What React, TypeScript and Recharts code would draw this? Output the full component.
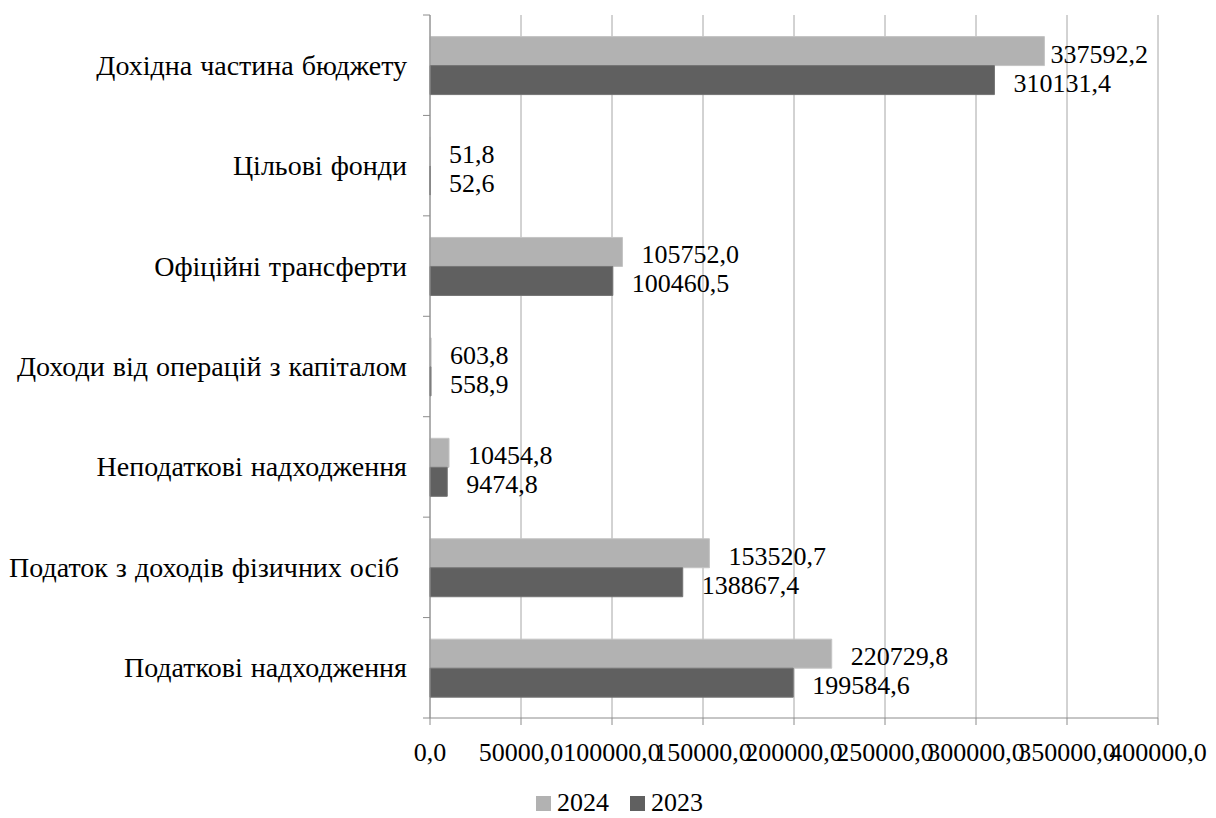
import React from 'react';
import {
  BarChart,
  Bar,
  XAxis,
  YAxis,
  CartesianGrid,
  LabelList,
} from 'recharts';

// budget revenue structure, thousand UAH
const categories = [
  'Дохідна частина бюджету',
  'Цільові фонди',
  'Офіційні трансферти',
  'Доходи від операцій з капіталом',
  'Неподаткові надходження',
  'Податок з доходів фізичних осіб ',
  'Податкові надходження',
];
const values2024 = [337592.2, 51.8, 105752.0, 603.8, 10454.8, 153520.7, 220729.8];
const values2023 = [310131.4, 52.6, 100460.5, 558.9, 9474.8, 138867.4, 199584.6];
const xTicks = [0, 50000, 100000, 150000, 200000, 250000, 300000, 350000, 400000];

const data = categories.map((name, i) => ({
  name,
  y2024: values2024[i],
  y2023: values2023[i],
}));

const FONT = 'Liberation Serif';
const TEXT = '#000';
const AXIS = '#8c8c8c';
const GRID = '#a6a6a6';
const LIGHT = '#b2b2b2';
const DARK = '#606060';

const W = 1216;
const H = 818;
const PLOT_TOP = 15;
const PLOT_BOTTOM = 718;
const PLOT_LEFT = 430;
const PLOT_RIGHT = 1158;
const BAND = (PLOT_BOTTOM - PLOT_TOP) / categories.length;

const fmt = (v: number) => v.toFixed(1).replace('.', ',');

interface CatTickProps {
  x?: number;
  y?: number;
  index?: number;
  payload?: { value: string };
}

// category label plus the little tick marks at band boundaries
function CategoryTick({ x = 0, y = 0, index = 0, payload }: CatTickProps) {
  const top = y - BAND / 2;
  const bottom = y + BAND / 2;
  return (
    <g>
      <line x1={x - 7} x2={x} y1={top} y2={top} stroke={AXIS} />
      {index === categories.length - 1 && (
        <line x1={x - 7} x2={x} y1={bottom} y2={bottom} stroke={AXIS} />
      )}
      <text
        x={x - 23}
        y={y}
        textAnchor="end"
        dominantBaseline="central"
        fontFamily={FONT}
        fontSize={28}
        wordSpacing={1}
        fill={TEXT}
        style={{ whiteSpace: 'pre' }}
      >
        {payload?.value}
      </text>
    </g>
  );
}

interface ValueLabelProps {
  x?: number | string;
  y?: number | string;
  width?: number | string;
  height?: number | string;
  value?: number | string;
}

// value printed past the bar end, kept inside the plot on the right
function ValueLabel({ x = 0, y = 0, width = 0, height = 0, value }: ValueLabelProps) {
  const text = fmt(Number(value));
  const approxWidth = (text.length - 1) * 13 + 6.5;
  let left = Number(x) + Number(width) + 19;
  if (left + approxWidth > PLOT_RIGHT - 10) left = PLOT_RIGHT - 10 - approxWidth;
  return (
    <text
      x={left}
      y={Number(y) + Number(height) / 2 + 3}
      dominantBaseline="central"
      fontFamily={FONT}
      fontSize={26}
      fill={TEXT}
    >
      {text}
    </text>
  );
}

function LegendRow() {
  const item = (color: string, label: string, gap: number) => (
    <span style={{ display: 'inline-flex', alignItems: 'center', marginRight: gap }}>
      <span style={{ width: 15, height: 15, background: color, marginRight: 6 }} />
      <span>{label}</span>
    </span>
  );
  return (
    <div
      style={{
        position: 'absolute',
        top: 793,
        left: 536,
        display: 'flex',
        alignItems: 'center',
        fontFamily: FONT,
        fontSize: 26,
        lineHeight: '20px',
        color: TEXT,
      }}
    >
      {item(LIGHT, '2024', 21)}
      {item(DARK, '2023', 0)}
    </div>
  );
}

export default function App() {
  return (
    <div
      style={{
        position: 'absolute',
        left: 0,
        top: 0,
        width: W,
        height: H,
        background: '#fff',
      }}
    >
      <BarChart
        width={W}
        height={H}
        data={data}
        layout="vertical"
        margin={{ top: PLOT_TOP, right: W - PLOT_RIGHT, bottom: H - PLOT_BOTTOM - 50, left: 0 }}
        barCategoryGap="21.5%"
        barGap={0}
      >
        <CartesianGrid horizontal={false} vertical stroke={GRID} />
        <XAxis
          type="number"
          domain={[0, 400000]}
          ticks={xTicks}
          tickFormatter={fmt}
          height={50}
          stroke={AXIS}
          tickSize={7}
          tickMargin={18}
          interval={0}
          tick={{ fontFamily: FONT, fontSize: 26, fill: TEXT }}
        />
        <YAxis
          type="category"
          dataKey="name"
          width={PLOT_LEFT}
          stroke={AXIS}
          tickLine={false}
          tickSize={0}
          tickMargin={0}
          interval={0}
          tick={<CategoryTick />}
        />
        <Bar dataKey="y2024" fill={LIGHT} stroke="#c4c4c4" isAnimationActive={false}>
          <LabelList dataKey="y2024" content={<ValueLabel />} />
        </Bar>
        <Bar dataKey="y2023" fill={DARK} stroke="#747474" isAnimationActive={false}>
          <LabelList dataKey="y2023" content={<ValueLabel />} />
        </Bar>
      </BarChart>
      <LegendRow />
    </div>
  );
}
